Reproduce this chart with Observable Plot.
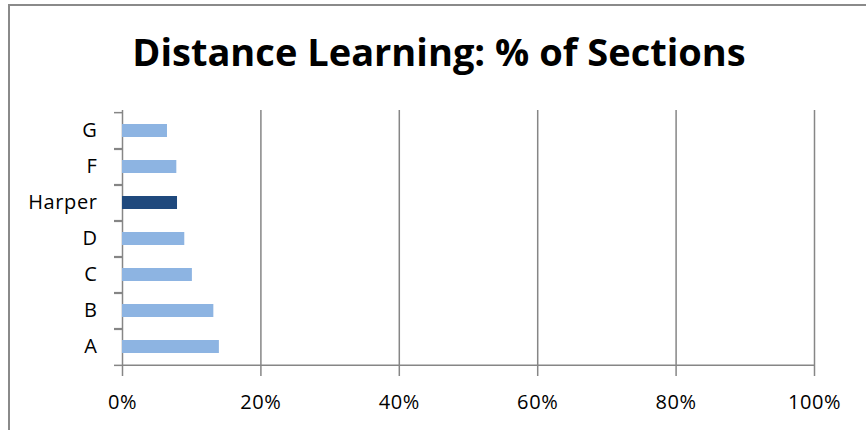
<!DOCTYPE html>
<html><head><meta charset="utf-8">
<script src="https://cdn.jsdelivr.net/npm/d3@7"></script>
<script src="https://cdn.jsdelivr.net/npm/@observablehq/plot@0.6"></script>
<style>
body{margin:0;background:#fff;}
#wrap{position:relative;width:866px;height:430px;overflow:hidden;font-family:"Open Sans",sans-serif;background:#fff;}
#border{position:absolute;left:8px;top:4px;width:1000px;height:1000px;border-left:2px solid #8a8a8a;border-top:2px solid #8a8a8a;}
#title{position:absolute;left:0;width:878px;top:32px;text-align:center;font-weight:700;font-size:38px;line-height:38px;color:#000;white-space:nowrap;}
#chart{position:absolute;left:0;top:0;}
#chart svg text{font-size:20px !important;font-family:"Open Sans",sans-serif;fill:#000;letter-spacing:0.6px;}
</style>
</head><body>
<div id="wrap"><div id="border"></div><div id="title">Distance Learning: % of Sections</div><div id="chart"></div></div>
<script>
const categories = ["A", "B", "C", "D", "Harper", "F", "G"];
const values = [14.0, 13.2, 10.1, 9.0, 7.95, 7.85, 6.5];
const highlight = "Harper";
const xTicks = [0, 20, 40, 60, 80, 100];

const data = categories.map((c, i) => ({category: c, value: values[i]}));
const H = 430, mt = 110, mb = 63;
const step = (H - mt - mb) / categories.length;
const gray = "#868686";
const pct = d => d + "%";

const chart = Plot.plot({
  width: 866, height: H,
  marginTop: mt, marginBottom: mb, marginLeft: 122, marginRight: 52,
  style: {fontFamily: "'Open Sans', sans-serif", fontSize: "20px", color: "#000", background: "transparent"},
  x: {domain: [0, 100]},
  y: {domain: categories.slice().reverse(), paddingInner: 0.64, paddingOuter: 0.32},
  marks: [
    Plot.ruleX(xTicks, {stroke: gray, strokeWidth: 1.5}),
    Plot.ruleY([categories[0]], {y: d => d, dy: step / 2, x1: 0, x2: 100, stroke: gray, strokeWidth: 1.5}),
    Plot.axisY({text: null, tickSize: 8, dy: -step / 2, stroke: gray, strokeWidth: 1.5, label: null}),
    Plot.axisY({text: null, tickSize: 8, dy: step / 2, stroke: gray, strokeWidth: 1.5, label: null}),
    Plot.axisY({tickSize: 0, tickPadding: 25, label: null, fontSize: 20}),
    Plot.axisX({ticks: xTicks, tickFormat: pct, tickSize: 9, tickPadding: 18, stroke: gray, strokeWidth: 1.5, label: null, fontSize: 20}),
    Plot.barX(data, {x: "value", y: "category", fill: d => d.category === highlight ? "#1F497D" : "#8DB4E2"})
  ]
});
document.getElementById("chart").appendChild(chart);
</script>
</body></html>
